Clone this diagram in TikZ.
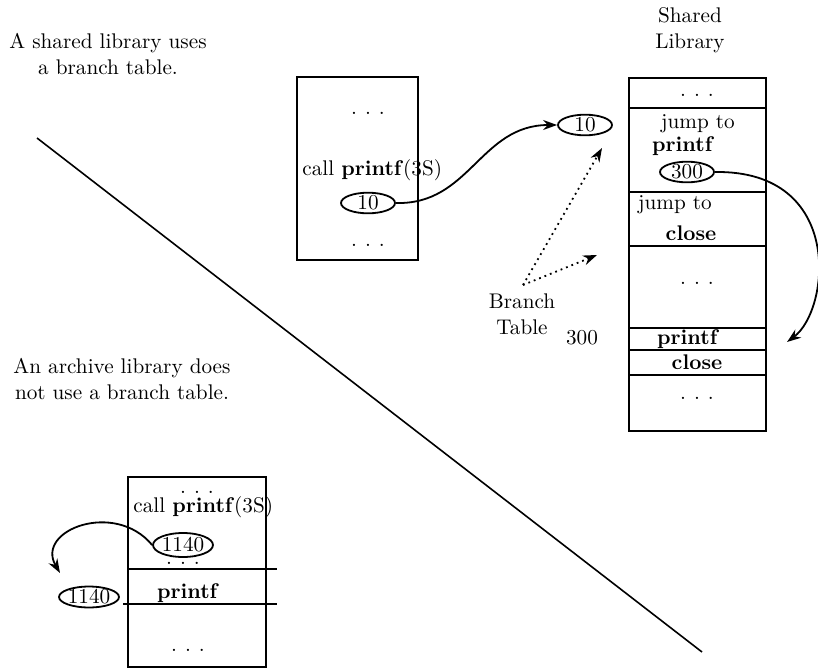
\documentclass[tikz,border=0pt]{standalone}
\usetikzlibrary{arrows.meta,shapes.geometric}
\newcommand{\rowdots}{.\hspace{4pt}.\hspace{4pt}.}
\begin{document}
\begin{tikzpicture}[x=0.5pt,y=-0.5pt,
  txt/.style={inner sep=0pt,font=\fontsize{10.6}{13}\selectfont},
  oval/.style={txt,draw,line width=0.9pt,ellipse,minimum width=27pt,minimum height=10pt},
  box/.style={draw,line width=1pt},
  link/.style={draw,line width=0.9pt,-{Stealth[length=7pt,width=5pt]}},
  ptr/.style={draw,line width=0.9pt,dotted,-{Stealth[length=7pt,width=5pt]}}]
\useasboundingbox (0,0) rectangle (818,669);
% captions and the dividing line
\node[txt,align=center] (shcap) at (108,54) {A shared library uses\\a branch table.};
\node[txt,align=center] (arcap) at (122,379) {An archive library does\\not use a branch table.};
\path[draw,line width=0.8pt] (37,138) -- (702,652);
% calling program
\path[box] (297,77) rectangle (418,260);
\node[txt] (cd1) at (368,113) {\rowdots};
\node[txt,anchor=west] (call) at (302,170) {call \textbf{printf}(3S)};
\node[oval] (a10) at (368,203) {10};
\node[txt] (cd2) at (368,245) {\rowdots};
% branch table entry
\node[oval] (t10) at (585,125) {10};
\path[link] (a10.east) .. controls (470,205) and (480,125) .. (t10.west);
\coordinate (bt) at (523,285);
\coordinate (p1) at (602,148);
\coordinate (p2) at (597,255);
\path[ptr] (bt) -- (p1);
\path[ptr] (bt) -- (p2);
\node[txt,align=center] (btl) at (522,314) {Branch\\Table};
\node[txt] (n300) at (582,338) {300};
% shared library
\node[txt,align=center] (shl) at (690,30) {Shared\\Library};
\path[box] (629,78) rectangle (766,431);
\foreach \y in {108,192,246,328,350,375}
  \path[box] (629,\y) -- (766,\y);
\node[txt] (sd1) at (697,95) {\rowdots};
\node[txt] (j1) at (698,124) {jump to};
\node[txt] (pf1) at (683,146) {\textbf{printf}};
\node[oval] (o300) at (687,172) {300};
\node[txt] (j2) at (675,205) {jump to};
\node[txt] (cl1) at (691,233) {\textbf{close}};
\node[txt] (sd2) at (697,283) {\rowdots};
\node[txt] (pf2) at (688,339) {\textbf{printf}};
\node[txt] (cl2) at (697,362) {\textbf{close}};
\node[txt] (sd3) at (697,398) {\rowdots};
\coordinate (pfin) at (787,342);
\path[link] (o300.east) .. controls (845,170) and (830,310) .. (pfin);
% archive library
\path[box] (128,477) rectangle (266,667);
\path[box] (128,569) -- (277,569);
\path[box] (123,604) -- (277,604);
\node[txt] (ad1) at (197,492) {\rowdots};
\node[txt,anchor=west] (acall) at (133,507) {call \textbf{printf}(3S)};
\node[oval,minimum height=12pt] (a1140) at (183,545) {1140};
\node[txt] (ad2) at (183,563) {\rowdots};
\node[txt] (apf) at (188,593) {\textbf{printf}};
\node[txt] (ad3) at (188,650) {\rowdots};
\node[oval] (b1140) at (89,597) {1140};
\coordinate (afin) at (60,573);
\path[link] (a1140.west) .. controls (115,500) and (35,530) .. (afin);
\end{tikzpicture}
\end{document}
